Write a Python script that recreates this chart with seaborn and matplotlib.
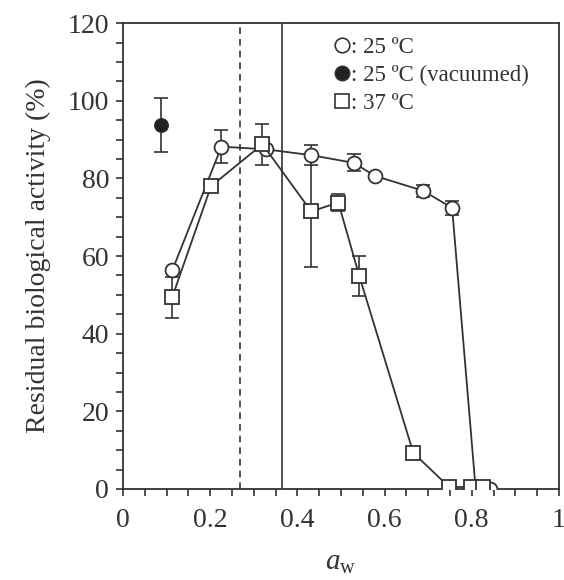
#!/usr/bin/env python3

import matplotlib
matplotlib.use("Agg")
import matplotlib.pyplot as plt
from matplotlib.lines import Line2D
import numpy as np
import pandas as pd
import seaborn as sns

# 25 ºC, open circles
aw_25 = [0.113, 0.226, 0.328, 0.432, 0.530, 0.577, 0.689, 0.755, 0.809, 0.842]
act_25 = [56.3, 88.2, 87.5, 86.0, 84.0, 80.7, 76.8, 72.4, 0.0, 0.0]
err_25 = [0.0, 4.3, 0.0, 2.6, 2.2, 0.0, 1.5, 1.8, 0.0, 0.0]

# 25 ºC vacuumed, filled circle
aw_vac = [0.087]
act_vac = [93.7]
err_vac = [6.9]

# 37 ºC, open squares
aw_37 = [0.113, 0.202, 0.320, 0.432, 0.494, 0.542, 0.666, 0.748, 0.798, 0.826]
act_37 = [49.4, 78.0, 88.8, 71.5, 73.8, 54.9, 9.3, 0.5, 0.5, 0.5]
err_37 = [5.3, 0.0, 5.3, 14.2, 2.2, 5.1, 0.0, 0.0, 0.0, 0.0]

# reference lines
aw_dashed = 0.268
aw_solid = 0.365

INK = "#333333"

sns.set_theme(style="ticks")
plt.rcParams["font.family"] = ["Liberation Serif", "DejaVu Serif"]
plt.rcParams["mathtext.fontset"] = "custom"
plt.rcParams["mathtext.it"] = "Liberation Serif:italic"
plt.rcParams["mathtext.rm"] = "Liberation Serif"

fig = plt.figure(figsize=(5.64, 5.80), dpi=100)
ax = fig.add_axes([0.218, 0.157, 0.773, 0.803])

ax.axvline(aw_dashed, color=INK, lw=1.2, ls=(0, (4, 3)), zorder=1)
ax.axvline(aw_solid, color=INK, lw=1.2, zorder=1)

ax.errorbar(aw_25, act_25, yerr=err_25, fmt="none", ecolor=INK,
            elinewidth=1.2, capsize=5, capthick=1.2, zorder=2)
ax.errorbar(aw_37, act_37, yerr=err_37, fmt="none", ecolor=INK,
            elinewidth=1.2, capsize=5, capthick=1.2, zorder=2)
ax.errorbar(aw_vac, act_vac, yerr=err_vac, fmt="none", ecolor=INK,
            elinewidth=1.2, capsize=5, capthick=1.2, zorder=2)

df25 = pd.DataFrame({"aw": aw_25, "act": act_25})
df37 = pd.DataFrame({"aw": aw_37, "act": act_37})
dfvac = pd.DataFrame({"aw": aw_vac, "act": act_vac})

sns.lineplot(data=df25, x="aw", y="act", sort=False, color=INK, lw=1.3,
             marker="o", markersize=10, markerfacecolor="white",
             markeredgecolor=INK, markeredgewidth=1.3, zorder=3, ax=ax)
sns.lineplot(data=df37, x="aw", y="act", sort=False, color=INK, lw=1.3,
             marker="s", markersize=9.5, markerfacecolor="white",
             markeredgecolor=INK, markeredgewidth=1.3, zorder=4, ax=ax)
sns.lineplot(data=dfvac, x="aw", y="act", color=INK, lw=0,
             marker="o", markersize=10, markerfacecolor="#222222",
             markeredgecolor=INK, zorder=4, ax=ax)

ax.set_xlim(0, 1)
ax.set_ylim(0, 120)
ax.set_xticks(np.arange(0, 1.01, 0.2))
ax.set_xticklabels(["0", "0.2", "0.4", "0.6", "0.8", "1"])
ax.set_xticks(np.arange(0, 1.001, 0.05), minor=True)
ax.set_yticks(np.arange(0, 121, 20))
ax.set_yticks(np.arange(0, 121, 5), minor=True)
ax.tick_params(which="both", direction="out", length=5, width=1.2,
               color=INK, labelsize=20, labelcolor=INK, pad=5)
ax.tick_params(axis="x", pad=9)
for s in ax.spines.values():
    s.set_color(INK)
    s.set_linewidth(1.3)

ax.set_xlabel(r"$a_\mathrm{w}$", fontsize=21, color=INK, labelpad=12)
ax.set_ylabel("Residual biological activity (%)", fontsize=20, color=INK,
              labelpad=12)

handles = [
    Line2D([], [], ls="none", marker="o", markersize=10.5, mfc="white",
           mec=INK, mew=1.2),
    Line2D([], [], ls="none", marker="o", markersize=10.5, mfc="#222222",
           mec=INK),
    Line2D([], [], ls="none", marker="s", markersize=10.5, mfc="white",
           mec=INK, mew=1.2),
]
labels = [": 25 ºC", ": 25 ºC (vacuumed)", ": 37 ºC"]
ax.legend(handles, labels, loc="upper left", bbox_to_anchor=(0.445, 1.0),
          frameon=False, fontsize=16.5, handletextpad=-0.1, handlelength=1.0,
          labelspacing=0.3, borderaxespad=0.2, labelcolor=INK)

fig.savefig("out.png", dpi=100)
